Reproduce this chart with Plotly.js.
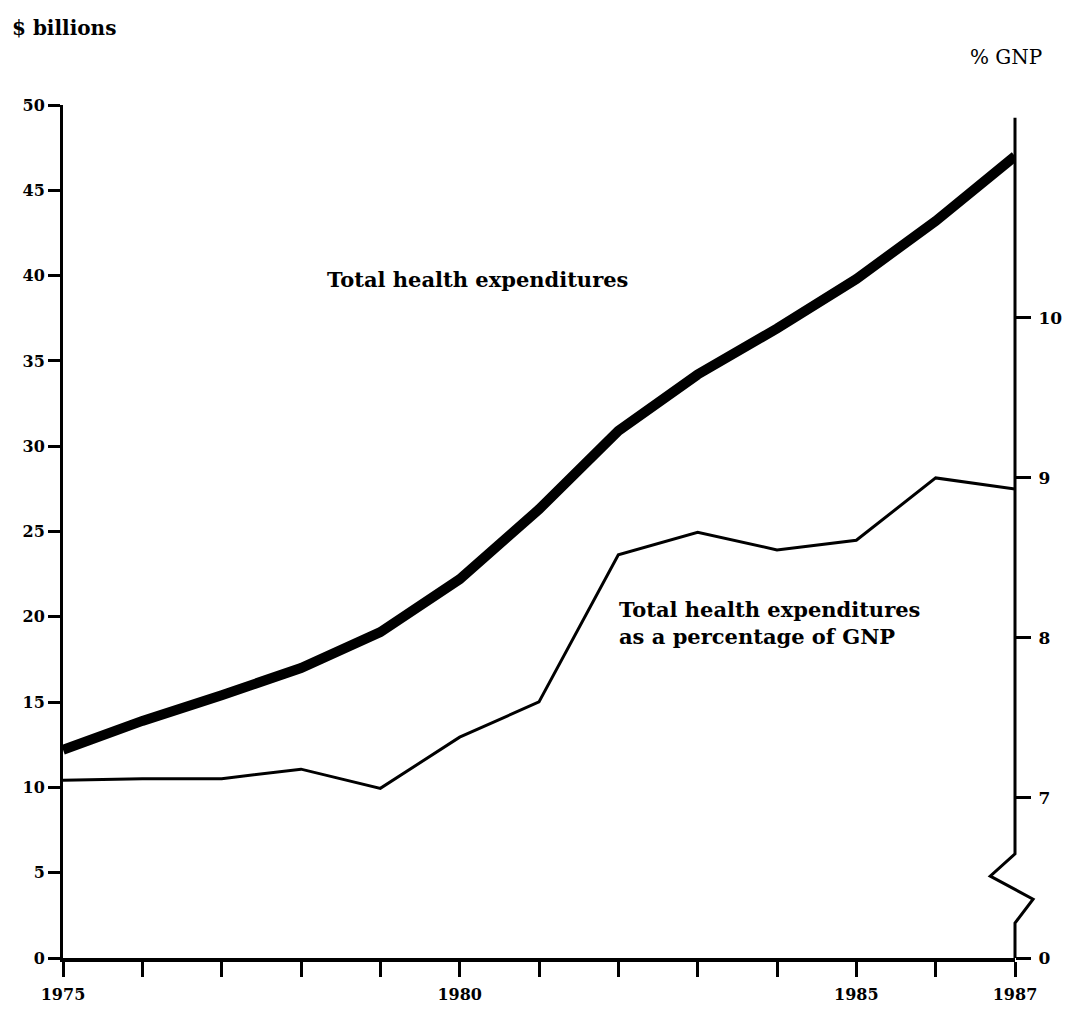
<!DOCTYPE html>
<html>
<head>
<meta charset="utf-8">
<script src="https://cdn.plot.ly/plotly-3.0.1.min.js"></script>
<style>
  html, body { margin: 0; padding: 0; background: #fff; }
  #chart { width: 1084px; height: 1023px; }
</style>
</head>
<body>
<div id="chart"></div>
<script>
// ---- data ----
const years = [1975, 1976, 1977, 1978, 1979, 1980, 1981, 1982, 1983, 1984, 1985, 1986, 1987];
const totalExpenditures = [12.2, 13.9, 15.4, 17.0, 19.1, 22.2, 26.3, 30.9, 34.2, 36.9, 39.8, 43.2, 47.0]; // $ billions
const pctGNP = [7.11, 7.12, 7.12, 7.18, 7.06, 7.38, 7.6, 8.52, 8.66, 8.55, 8.61, 9.0, 8.93]; // % of GNP
const yearTickLabels = ["1975", "", "", "", "", "1980", "", "", "", "", "1985", "", "1987"];
const leftTicks = [0, 5, 10, 15, 20, 25, 30, 35, 40, 45, 50];
// right axis is broken below 7: the bottom position stands for 0
const rightTickVals = [6, 7, 8, 9, 10];
const rightTickText = ["0", "7", "8", "9", "10"];

const FONT = "DejaVu Serif, Liberation Serif, serif";
const TICKFONT = {family: FONT, size: 16, color: "#000", weight: "bold"};

const traces = [
  {
    x: years, y: totalExpenditures, type: "scatter", mode: "lines",
    line: {color: "#000", width: 10, shape: "linear"},
    yaxis: "y", showlegend: false, hoverinfo: "skip"
  },
  {
    x: years, y: pctGNP, type: "scatter", mode: "lines",
    line: {color: "#000", width: 3},
    yaxis: "y2", showlegend: false, hoverinfo: "skip"
  }
];

const layout = {
  width: 1084, height: 1023,
  margin: {l: 63, r: 69, t: 105, b: 65, pad: 0},
  paper_bgcolor: "#fff", plot_bgcolor: "#fff",
  showlegend: false,
  xaxis: {
    range: [1975, 1987],
    tickvals: years, ticktext: yearTickLabels,
    ticks: "outside", ticklen: 15, tickwidth: 3, tickcolor: "#000",
    showline: true, linewidth: 4, linecolor: "#000",
    showgrid: false, zeroline: false,
    tickfont: TICKFONT, ticklabelstandoff: 4,
    fixedrange: true
  },
  yaxis: {
    range: [0, 50], tickvals: leftTicks,
    ticks: "outside", ticklen: 12, tickwidth: 3, tickcolor: "#000",
    showline: true, linewidth: 3, linecolor: "#000",
    showgrid: false, zeroline: false,
    tickfont: TICKFONT, ticklabelstandoff: 0,
    fixedrange: true
  },
  yaxis2: {
    overlaying: "y", side: "right",
    range: [6, 11.33],
    tickvals: rightTickVals, ticktext: rightTickText,
    ticks: "outside", ticklen: 15, tickwidth: 3, tickcolor: "#000",
    showline: false, showgrid: false, zeroline: false,
    tickfont: {family: FONT, size: 17, color: "#000", weight: "bold"}, ticklabelstandoff: 4,
    fixedrange: true
  },
  shapes: [
    {
      type: "path", xref: "paper", yref: "paper",
      path: "M 1 0.985 L 1 0.122 L 0.974 0.096 L 1.019 0.069 L 1 0.041 L 1 0",
      line: {color: "#000", width: 3}
    }
  ],
  annotations: [
    {text: "$ billions", xref: "paper", yref: "paper", x: -0.056, y: 1.09,
     xanchor: "left", yanchor: "middle", showarrow: false,
     font: {family: FONT, size: 20, color: "#000", weight: "bold"}},
    {text: "% GNP", xref: "paper", yref: "paper", x: 0.951, y: 1.056,
     xanchor: "left", yanchor: "middle", showarrow: false,
     font: {family: FONT, size: 20, color: "#000"}},
    {text: "Total health expenditures", xref: "paper", yref: "paper", x: 0.275, y: 0.796,
     xanchor: "left", yanchor: "middle", showarrow: false,
     font: {family: FONT, size: 21, color: "#000", weight: "bold"}},
    {text: "Total health expenditures<br>as a percentage of GNP", xref: "paper", yref: "paper",
     x: 0.582, y: 0.393, xanchor: "left", yanchor: "middle", align: "left", showarrow: false,
     font: {family: FONT, size: 21, color: "#000", weight: "bold"}}
  ]
};

Plotly.newPlot("chart", traces, layout, {staticPlot: true, displayModeBar: false});
</script>
</body>
</html>
